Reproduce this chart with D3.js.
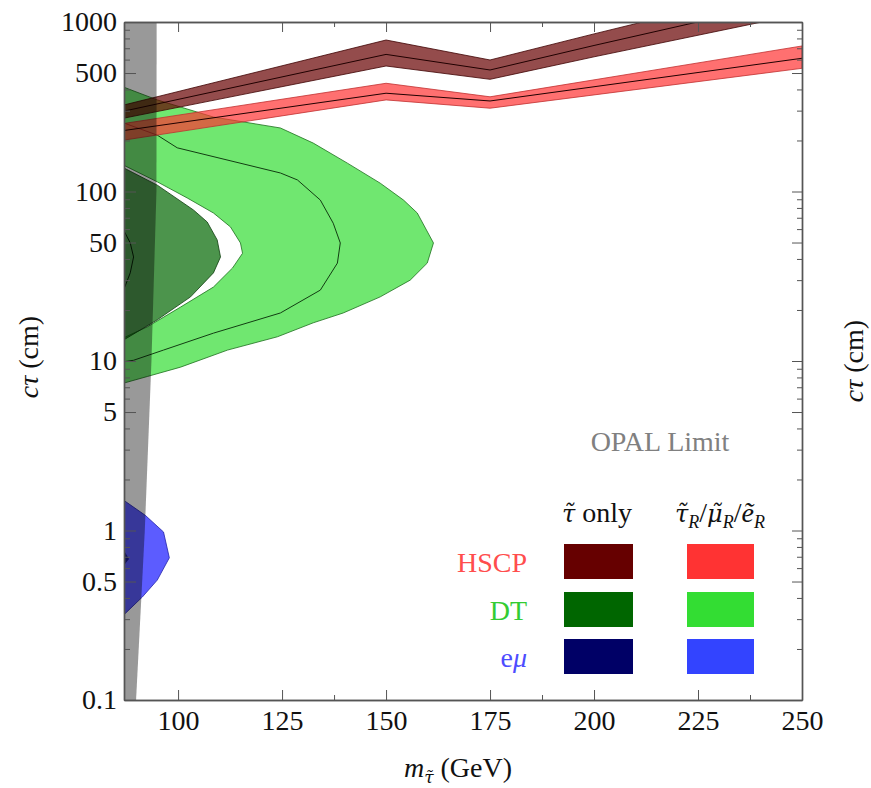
<!DOCTYPE html>
<html>
<head>
<meta charset="utf-8">
<script src="https://cdn.jsdelivr.net/npm/d3@7.9.0/dist/d3.min.js"></script>
</head>
<body style="margin:0">
<svg id="chart" width="871" height="788"></svg>
<script>
// ---- axis ticks ----
const xTicks = [100, 125, 150, 175, 200, 225, 250];
const xMinorTicks = [137.5, 187.5, 237.5];
const yTicks = [0.1, 0.5, 1, 5, 10, 50, 100, 500, 1000];
const yTickLabels = ['0.1', '0.5', '1', '5', '10', '50', '100', '500', '1000'];
const yMinorTicks = [0.2, 0.3, 0.4, 0.6, 0.7, 0.8, 0.9, 2, 3, 4, 6, 7, 8, 9,
  20, 30, 40, 60, 70, 80, 90, 200, 300, 400, 600, 700, 800, 900];

// ---- HSCP bands: mass (GeV) and c*tau (cm) low / central / high ----
const hscpStauMass = [87, 150, 175, 200, 250];
const hscpStauLow  = [271, 550, 459, 623, 1120];
const hscpStauMid  = [298, 644, 521, 727, 1380];
const hscpStauHigh = [324, 783, 597, 851, 1700];

const hscpAllMass = [87, 150, 175, 250];
const hscpAllLow  = [201, 347, 310, 533];
const hscpAllMid  = [229, 380, 342, 611];
const hscpAllHigh = [252, 435, 362, 722];

// ---- DT contours, [mass, c*tau] ----
const dtAllOuter = [[86.9, 413], [95.0, 347], [108.5, 275], [124.6, 237], [132.5, 193],
  [140.7, 147], [148.6, 112], [154.2, 89], [157.5, 74.7], [161.4, 49.7], [159.9, 37.8],
  [155.8, 30.0], [148.6, 23.9], [139.7, 19.2], [132.5, 16.8], [123.9, 13.9],
  [111.9, 11.6], [100.6, 9.2], [92.6, 8.1], [86.9, 7.4]];
const dtAllHole = [[86.9, 143], [95.0, 114], [102.2, 91.6], [108.5, 74.7], [112.6, 61.8],
  [115.0, 49.7], [115.5, 43.2], [113.1, 35.4], [108.5, 27.3], [100.6, 20.8],
  [92.6, 15.9], [86.9, 13.7]];
const dtAllCentral = [[86.9, 254], [95.0, 215], [99.8, 181], [124.6, 128.6], [128.7, 117],
  [134.2, 89], [137.3, 65], [139.0, 49.7], [138.3, 37.8], [134.2, 26.2], [124.6, 19.2],
  [108.5, 14.6], [96.5, 11.6], [89.3, 10.1], [86.9, 9.9]];
const dtStau = [[86.9, 138], [95.0, 109], [103.7, 77.8], [107.0, 66.1], [109.4, 51.8],
  [110.2, 41.1], [108.5, 33.1], [103.0, 23.9], [95.0, 17.5], [86.9, 13.3]];
const dtStauCentral = [[86.9, 59.3], [88.5, 49.7], [89.3, 41.1], [88.5, 33.1], [86.9, 26.2]];

// ---- e-mu contours ----
const emuAll = [[86.9, 1.51], [92.1, 1.23], [96.5, 0.98], [97.9, 0.69], [95.0, 0.51],
  [91.4, 0.405], [86.9, 0.317]];
const emuStau = [[86.9, 0.77], [88.2, 0.68], [86.9, 0.62]];

// ---- OPAL limit edge: c*tau and mass ----
const opalCtau = [0.1, 1, 10, 100, 1000];
const opalMass = [89.9, 92.0, 93.6, 94.8, 94.85];

// ---- legend ----
const legendRows = ['HSCP', 'DT', 'eμ'];
const legendRowColors = ['#ff4d4d', '#33cc33', '#4d4dff'];
const legendStauColors = ['#660000', '#006600', '#000066'];
const legendAllColors = ['#ff3333', '#33dd33', '#3344ff'];

const width = 871, height = 788;
const margin = { top: 22, right: 69, bottom: 88, left: 124 };
const bodyFont = 'Liberation Serif';
const tildeFont = 'DejaVu Serif';
const fs = 28;

const svg = d3.select('#chart');

const x = d3.scaleLinear().domain([87, 250]).range([margin.left, width - margin.right]);
const y = d3.scaleLog().domain([0.1, 1000]).range([height - margin.bottom, margin.top]);

svg.append('defs').append('clipPath').attr('id', 'plot-clip')
  .append('rect')
  .attr('x', margin.left).attr('y', margin.top)
  .attr('width', width - margin.left - margin.right)
  .attr('height', height - margin.top - margin.bottom);

const plot = svg.append('g').attr('clip-path', 'url(#plot-clip)');

const closed = d3.line().x(d => x(d[0])).y(d => y(d[1])).curve(d3.curveLinearClosed);
const open = d3.line().x(d => x(d[0])).y(d => y(d[1]));

// DT, all sleptons (with hole)
plot.append('path')
  .attr('d', closed(dtAllOuter) + closed(dtAllHole))
  .attr('fill', '#33dd33').attr('fill-opacity', 0.7)
  .attr('fill-rule', 'evenodd')
  .attr('stroke', '#1d6e1d').attr('stroke-width', 0.8);
plot.append('path')
  .attr('d', open(dtAllCentral))
  .attr('fill', 'none').attr('stroke', '#123d12').attr('stroke-width', 1);

// DT, stau only
plot.append('path')
  .attr('d', closed(dtStau))
  .attr('fill', '#006600').attr('fill-opacity', 0.7)
  .attr('stroke', '#0d3d0d').attr('stroke-width', 0.8);
plot.append('path')
  .attr('d', open(dtStauCentral))
  .attr('fill', 'none').attr('stroke', '#051f05').attr('stroke-width', 1);

// e-mu
plot.append('path')
  .attr('d', closed(emuAll))
  .attr('fill', '#3333ff').attr('fill-opacity', 0.8)
  .attr('stroke', '#2222aa').attr('stroke-width', 0.8);
plot.append('path')
  .attr('d', closed(emuStau))
  .attr('fill', '#000066').attr('fill-opacity', 0.7);

// HSCP bands
function band(mass, lo, mid, hi, color, edge) {
  const rows = mass.map((m, i) => ({ m, lo: lo[i], mid: mid[i], hi: hi[i] }));
  plot.append('path')
    .attr('d', d3.area().x(d => x(d.m)).y0(d => y(d.lo)).y1(d => y(d.hi))(rows))
    .attr('fill', color).attr('fill-opacity', 0.7)
    .attr('stroke', edge).attr('stroke-width', 0.8);
  plot.append('path')
    .attr('d', d3.line().x(d => x(d.m)).y(d => y(d.mid))(rows))
    .attr('fill', 'none').attr('stroke', '#200000').attr('stroke-width', 1);
}
band(hscpAllMass, hscpAllLow, hscpAllMid, hscpAllHigh, '#ff3333', '#c03030');
band(hscpStauMass, hscpStauLow, hscpStauMid, hscpStauHigh, '#660000', '#3d0000');

// OPAL limit
const opal = opalCtau.map((c, i) => ({ c, m: opalMass[i] }));
plot.append('path')
  .attr('d', d3.area().y(d => y(d.c)).x0(x(87) - 2).x1(d => x(d.m))(opal))
  .attr('fill', '#000').attr('fill-opacity', 0.4);

// ---- axes / frame ----
function styleAxis(g) {
  g.attr('font-family', bodyFont).attr('font-size', fs);
  g.selectAll('.domain').attr('stroke', '#555').attr('stroke-width', 1.4);
  g.selectAll('.tick line').attr('stroke', '#555').attr('stroke-width', 1);
  g.selectAll('.tick text').attr('font-family', bodyFont).attr('font-size', fs).attr('fill', '#111');
}

const bottom = height - margin.bottom;
const right = width - margin.right;

svg.append('g').attr('transform', `translate(0,${bottom})`)
  .call(d3.axisBottom(x).tickValues(xTicks).tickFormat(d3.format('d'))
    .tickSizeInner(-10).tickSizeOuter(0).tickPadding(10))
  .call(styleAxis);
svg.append('g').attr('transform', `translate(0,${bottom})`)
  .call(d3.axisBottom(x).tickValues(xMinorTicks).tickFormat('').tickSizeInner(-5).tickSizeOuter(0))
  .call(styleAxis);
svg.append('g').attr('transform', `translate(0,${margin.top})`)
  .call(d3.axisTop(x).tickValues(xTicks).tickFormat('').tickSizeInner(-10).tickSizeOuter(0))
  .call(styleAxis);
svg.append('g').attr('transform', `translate(0,${margin.top})`)
  .call(d3.axisTop(x).tickValues(xMinorTicks).tickFormat('').tickSizeInner(-5).tickSizeOuter(0))
  .call(styleAxis);

svg.append('g').attr('transform', `translate(${margin.left},0)`)
  .call(d3.axisLeft(y).tickValues(yTicks).tickFormat((d, i) => yTickLabels[i])
    .tickSizeInner(-12).tickSizeOuter(0).tickPadding(7))
  .call(styleAxis);
svg.append('g').attr('transform', `translate(${margin.left},0)`)
  .call(d3.axisLeft(y).tickValues(yMinorTicks).tickFormat('').tickSizeInner(-6).tickSizeOuter(0))
  .call(styleAxis);
svg.append('g').attr('transform', `translate(${right},0)`)
  .call(d3.axisRight(y).tickValues(yTicks).tickFormat('').tickSizeInner(-10).tickSizeOuter(0))
  .call(styleAxis);
svg.append('g').attr('transform', `translate(${right},0)`)
  .call(d3.axisRight(y).tickValues(yMinorTicks).tickFormat('').tickSizeInner(-5).tickSizeOuter(0))
  .call(styleAxis);

function label(sel) {
  return sel.append('text').attr('font-family', bodyFont).attr('font-size', fs).attr('fill', '#111');
}
function span(t, txt, family = bodyFont) {
  return t.append('tspan').attr('font-family', family).text(txt);
}

// axis titles
const xTitle = label(svg).attr('x', 458).attr('y', 777).attr('text-anchor', 'middle');
span(xTitle, 'm').attr('font-style', 'italic');
span(xTitle, 'τ\u0303', tildeFont).attr('font-style', 'italic').attr('font-size', 17).attr('dy', 6);
span(xTitle, '\u00a0(GeV)').attr('dy', -6);

function yTitle(tx, ty) {
  const t = label(svg).attr('transform', `translate(${tx},${ty}) rotate(-90)`)
    .attr('text-anchor', 'middle');
  span(t, 'cτ').attr('font-style', 'italic');
  span(t, '\u00a0(cm)');
}
yTitle(38, 357);
yTitle(863, 361);

// ---- legend ----
label(svg).attr('x', 660).attr('y', 451).attr('text-anchor', 'middle')
  .attr('fill', '#808080').text('OPAL Limit');

const h1 = label(svg).attr('x', 597).attr('y', 522).attr('text-anchor', 'middle');
span(h1, 'τ\u0303', tildeFont).attr('font-style', 'italic').attr('font-size', 24);
span(h1, '\u00a0only');

const h2 = label(svg).attr('x', 720).attr('y', 522).attr('text-anchor', 'middle');
[['τ\u0303', 'R'], ['μ\u0303', 'R'], ['ẽ', 'R']].forEach(([s, sub], i) => {
  if (i > 0) span(h2, '/').attr('dy', -6);
  const glyph = span(h2, s, i < 2 ? tildeFont : bodyFont).attr('font-style', 'italic');
  if (i < 2) glyph.attr('font-size', 24);
  span(h2, sub).attr('font-style', 'italic').attr('font-size', 18).attr('dy', 6);
});

const rowY = [544, 592, 639];
legendRows.forEach((name, i) => {
  const t = label(svg).attr('x', 527).attr('y', rowY[i] + 28)
    .attr('text-anchor', 'end').attr('fill', legendRowColors[i]);
  if (name === 'eμ') {
    span(t, 'e');
    span(t, 'μ').attr('font-style', 'italic');
  } else {
    span(t, name);
  }
  svg.append('rect').attr('x', 564).attr('y', rowY[i]).attr('width', 69).attr('height', 35)
    .attr('fill', legendStauColors[i]);
  svg.append('rect').attr('x', 687).attr('y', rowY[i]).attr('width', 67).attr('height', 35)
    .attr('fill', legendAllColors[i]);
});
</script>
</body>
</html>
